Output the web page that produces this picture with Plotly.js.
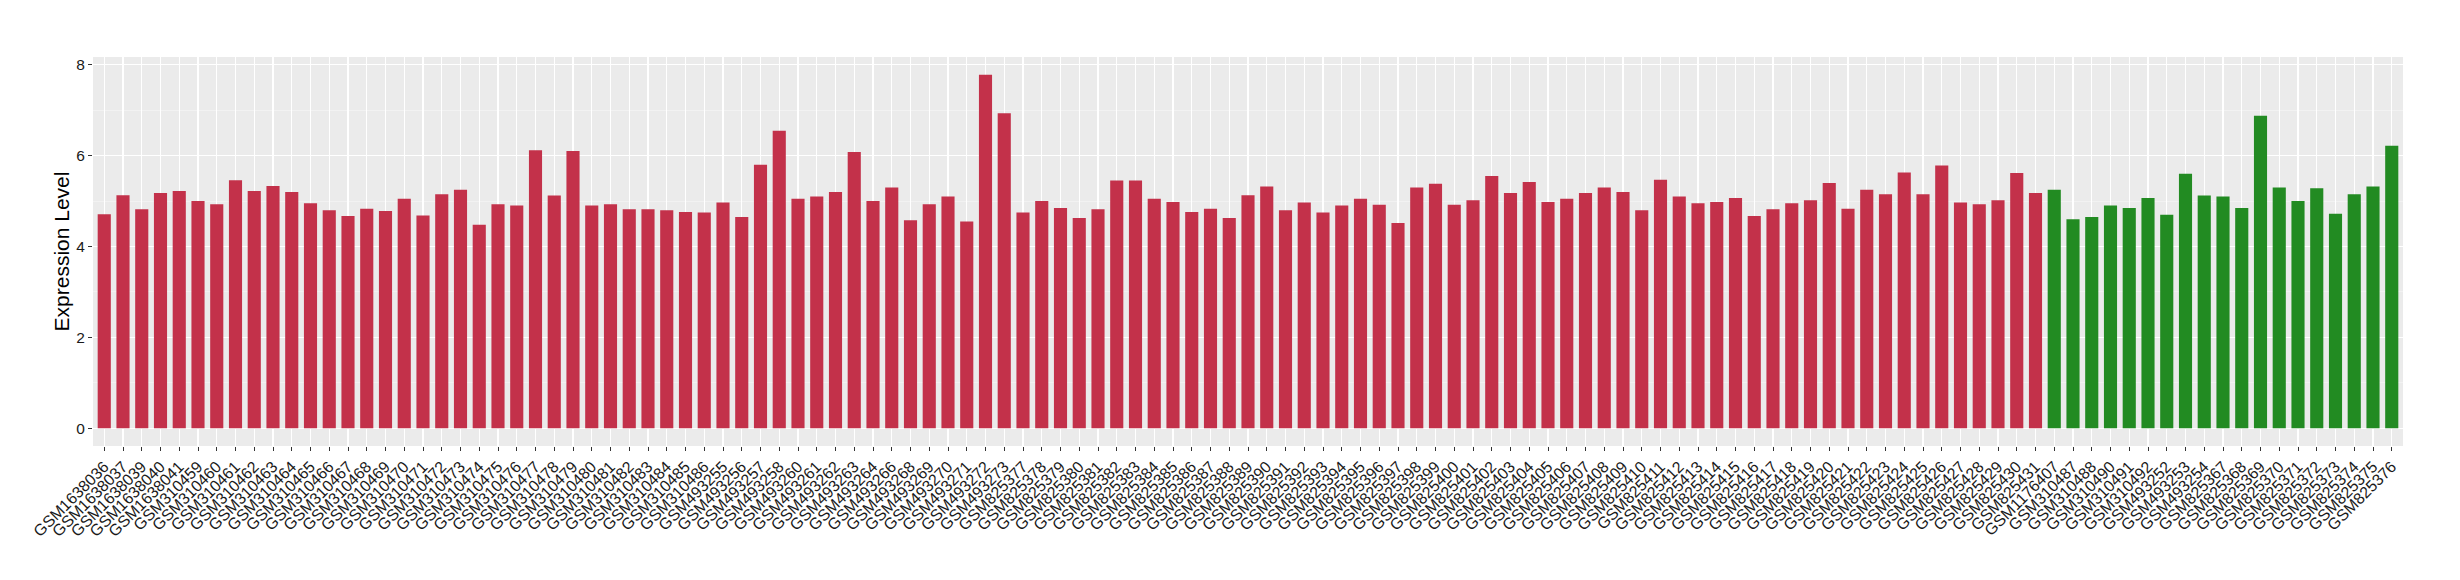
<!DOCTYPE html>
<html>
<head>
<meta charset="utf-8">
<script src="https://cdn.plot.ly/plotly-3.0.1.min.js"></script>
<style>html,body{margin:0;padding:0;background:#fff;}#chart{width:2460px;height:580px;}</style>
</head>
<body>
<div id="chart"></div>
<script>
// Group 1 (red) samples
const redSamples = [
  "GSM1638036","GSM1638037","GSM1638039","GSM1638040","GSM1638041",
  "GSM310459","GSM310460","GSM310461","GSM310462","GSM310463","GSM310464","GSM310465","GSM310466","GSM310467","GSM310468","GSM310469","GSM310470","GSM310471","GSM310472","GSM310473","GSM310474","GSM310475","GSM310476","GSM310477","GSM310478","GSM310479","GSM310480","GSM310481","GSM310482","GSM310483","GSM310484","GSM310485","GSM310486",
  "GSM493255","GSM493256","GSM493257","GSM493258","GSM493260","GSM493261","GSM493262","GSM493263","GSM493264","GSM493266","GSM493268","GSM493269","GSM493270","GSM493271","GSM493272","GSM493273",
  "GSM825377","GSM825378","GSM825379","GSM825380","GSM825381","GSM825382","GSM825383","GSM825384","GSM825385","GSM825386","GSM825387","GSM825388","GSM825389","GSM825390","GSM825391","GSM825392","GSM825393","GSM825394","GSM825395","GSM825396","GSM825397","GSM825398","GSM825399","GSM825400","GSM825401","GSM825402","GSM825403","GSM825404","GSM825405","GSM825406","GSM825407","GSM825408","GSM825409","GSM825410","GSM825411","GSM825412","GSM825413","GSM825414","GSM825415","GSM825416","GSM825417","GSM825418","GSM825419","GSM825420","GSM825421","GSM825422","GSM825423","GSM825424","GSM825425","GSM825426","GSM825427","GSM825428","GSM825429","GSM825430","GSM825431"
];
const redValues = [
  4.71,5.13,4.82,5.18,5.22,
  5.00,4.93,5.46,5.22,5.33,5.20,4.95,4.80,4.67,4.83,4.78,5.05,4.68,5.15,5.25,4.48,4.93,4.90,6.12,5.12,6.10,4.90,4.93,4.82,4.82,4.80,4.76,4.75,
  4.97,4.65,5.80,6.55,5.05,5.10,5.20,6.08,5.00,5.30,4.58,4.93,5.10,4.55,7.78,6.93,
  4.75,5.00,4.85,4.63,4.82,5.45,5.45,5.05,4.98,4.76,4.83,4.63,5.13,5.32,4.80,4.97,4.75,4.90,5.05,4.92,4.52,5.30,5.38,4.92,5.02,5.55,5.18,5.42,4.98,5.05,5.18,5.30,5.20,4.80,5.47,5.10,4.95,4.98,5.07,4.67,4.82,4.95,5.02,5.40,4.83,5.25,5.15,5.63,5.15,5.78,4.97,4.93,5.02,5.62,5.18
];
// Group 2 (green) samples
const greenSamples = [
  "GSM1176407","GSM310487","GSM310488","GSM310490","GSM310491","GSM310492","GSM493252","GSM493253","GSM493254",
  "GSM825367","GSM825368","GSM825369","GSM825370","GSM825371","GSM825372","GSM825373","GSM825374","GSM825375","GSM825376"
];
const greenValues = [
  5.25,4.60,4.65,4.90,4.85,5.07,4.70,5.60,5.12,5.10,4.85,6.88,5.30,5.00,5.28,4.72,5.15,5.32,6.22
];
const yTickVals = [0,2,4,6,8];

const traces = [
  {type:"bar", x: redSamples, y: redValues, marker:{color:"#C3314A"}, width:0.7, showlegend:false, hoverinfo:"x+y"},
  {type:"bar", x: greenSamples, y: greenValues, marker:{color:"#228B22"}, width:0.7, showlegend:false, hoverinfo:"x+y"}
];

const allSamples = redSamples.concat(greenSamples);

const layout = {
  width:2460, height:580,
  margin:{l:93, r:57, t:57, b:134},
  paper_bgcolor:"#FFFFFF",
  plot_bgcolor:"#EBEBEB",
  barmode:"overlay",
  font:{family:"Liberation Sans, Arial, sans-serif", color:"#1A1A1A"},
  xaxis:{
    type:"category",
    categoryorder:"array",
    categoryarray: allSamples,
    range:[-0.6, allSamples.length - 0.4],
    tickmode:"linear", tick0:0, dtick:1,
    showgrid:true, gridcolor:"#FFFFFF", gridwidth:1.2,
    zeroline:false, showline:false,
    ticks:"outside", ticklen:4, tickcolor:"#333333", tickwidth:1,
    tickangle:-45,
    tickfont:{size:16, color:"#1A1A1A", family:"Liberation Sans, Arial, sans-serif"},
    automargin:false
  },
  yaxis:{
    range:[-0.389, 8.17],
    tickvals: yTickVals,
    ticktext: yTickVals.map(String),
    showgrid:true, gridcolor:"#FFFFFF", gridwidth:1.2,
    minor:{dtick:1, tick0:0, showgrid:true, gridcolor:"#F7F7F7", gridwidth:0.6, ticks:""},
    zeroline:false, showline:false,
    ticks:"outside", ticklen:4, tickcolor:"#333333", tickwidth:1,
    tickfont:{size:15.5, color:"#1A1A1A", family:"Liberation Sans, Arial, sans-serif"},
    title:{text:"Expression Level", font:{size:21, color:"#000000", family:"Liberation Sans, Arial, sans-serif"}, standoff:0},
    automargin:false
  }
};

Plotly.newPlot("chart", traces, layout, {staticPlot:true, displayModeBar:false});
</script>
</body>
</html>
